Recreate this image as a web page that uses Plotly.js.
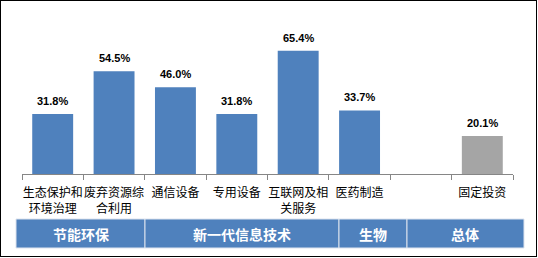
<!DOCTYPE html>
<html>
<head>
<meta charset="utf-8">
<script src="https://cdn.plot.ly/plotly-3.0.1.min.js"></script>
<style>
html,body{margin:0;padding:0;background:#fff;}
#wrap{position:relative;width:538px;height:258px;}
#chart{width:538px;height:258px;}
#frame{position:absolute;left:0;top:0;width:537px;height:257px;box-sizing:border-box;border:1.5px solid #000;pointer-events:none;}
</style>
</head>
<body>
<div id="wrap"><div id="chart"></div><div id="frame"></div></div>
<script>
// ---- data ----
const categories = ["生态保护和<br>环境治理", "废弃资源综<br>合利用", "通信设备", "专用设备", "互联网及相<br>关服务", "医药制造", " ", "固定投资"];
const values = [31.8, 54.5, 46.0, 31.8, 65.4, 33.7, null, 20.1];
const groups = ["节能环保", "新一代信息技术", "生物", "总体"];

// ---- styling ----
const BLUE = "#4F81BD", GRAY = "#A5A5A5";
const barColors = categories.map((c, i) => i === categories.length - 1 ? GRAY : BLUE);

// band cell edges in paper coordinates (layout only)
const bandEdges = [-0.0122, 0.2505, 0.6456, 0.7841, 1.0224];
const bandTop = -0.341, bandBottom = -0.5606;

const shapes = [];
const annotations = [];
groups.forEach((g, i) => {
  shapes.push({type: "rect", xref: "paper", yref: "paper",
    x0: bandEdges[i], x1: bandEdges[i + 1], y0: bandBottom, y1: bandTop,
    fillcolor: BLUE, line: {color: "#DCE3EE", width: 1}, layer: "above"});
  annotations.push({xref: "paper", yref: "paper",
    x: (bandEdges[i] + bandEdges[i + 1]) / 2, y: (bandTop + bandBottom) / 2,
    text: "<b>" + g + "</b>", showarrow: false, xanchor: "center", yanchor: "middle",
    font: {family: "Noto Sans CJK SC", size: 14, color: "#fff"}});
});
values.forEach((v, i) => {
  if (v === null) return;
  annotations.push({xref: "x", yref: "y", x: categories[i], y: v,
    text: "<b>" + v.toFixed(1) + "%</b>", showarrow: false, xanchor: "center", yanchor: "bottom",
    yshift: 5, font: {family: "Liberation Sans, Arial", size: 11, color: "#000"}});
});

const trace = {
  type: "bar", x: categories, y: values,
  marker: {color: barColors, line: {width: 0}},
  hoverinfo: "none"
};

const layout = {
  width: 538, height: 258,
  margin: {l: 22, r: 25, t: 42, b: 84},
  paper_bgcolor: "#fff", plot_bgcolor: "#fff",
  bargap: 1/3,
  showlegend: false,
  xaxis: {
    type: "category", tickson: "boundaries", ticks: "outside", ticklen: 5,
    tickcolor: "#868686", tickwidth: 1,
    showline: true, linecolor: "#868686", linewidth: 1,
    showgrid: false, zeroline: false, fixedrange: true,
    tickangle: 0, ticklabelstandoff: 8,
    tickfont: {family: "Noto Sans CJK SC", size: 12, color: "#000"}
  },
  yaxis: {range: [0, 70], visible: false, showgrid: false, zeroline: false, fixedrange: true},
  shapes: shapes,
  annotations: annotations,
  font: {family: "Noto Sans CJK SC"}
};

Plotly.newPlot("chart", [trace], layout, {displayModeBar: false, staticPlot: true});
</script>
</body>
</html>
